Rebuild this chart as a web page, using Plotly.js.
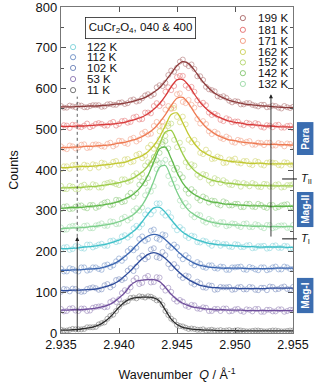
<!DOCTYPE html>
<html><head><meta charset="utf-8">
<script src="https://cdn.plot.ly/plotly-3.0.1.min.js"></script>
<style>html,body{margin:0;padding:0;background:#fff}#chart{width:316px;height:383px}</style>
</head><body><div id="chart"></div>
<script>
// Wavenumber grids (Å^-1)
const Q = [2.935,2.9355,2.936,2.9365,2.937,2.9375,2.938,2.9385,2.939,2.9395,2.94,2.9405,2.941,2.9415,2.942,2.9425,2.943,2.9435,2.944,2.9445,2.945,2.9455,2.946,2.9465,2.947,2.9475,2.948,2.9485,2.949,2.9495,2.95,2.9505,2.951,2.9515,2.952,2.9525,2.953,2.9535,2.954,2.9545,2.955];
const Qm = [2.93525,2.93575,2.93625,2.93675,2.93725,2.93775,2.93825,2.93875,2.93925,2.93975,2.94025,2.94075,2.94125,2.94175,2.94225,2.94275,2.94325,2.94375,2.94425,2.94475,2.94525,2.94575,2.94625,2.94675,2.94725,2.94775,2.94825,2.94875,2.94925,2.94975,2.95025,2.95075,2.95125,2.95175,2.95225,2.95275,2.95325,2.95375,2.95425,2.95475];

const temps = ['11 K','53 K','102 K','112 K','122 K','132 K','142 K','152 K','162 K','171 K','181 K','199 K'];

// fitted curves (offset counts) on Q
const fit_11K  = [7,7,8,9,11,13,17,23,33,47,63,76,84,87,88,88,86,78,56,34,21,14,11,9,8,7,7,6,6,6,6,5,5,5,5,5,5,5,5,5,5];
const fit_53K  = [56,56,57,57,58,59,61,64,68,75,86,99,117,127,130,131,131,126,112,95,82,73,67,63,61,59,58,57,57,56,56,56,55,55,55,55,55,55,55,55,55];
const fit_102K = [104,104,105,105,106,107,108,111,115,120,128,140,153,168,182,193,197,193,183,169,154,141,131,123,117,114,112,111,110,110,110,109,109,109,109,109,110,110,110,110,110];
const fit_112K = [154,154,155,155,156,157,158,160,164,169,177,188,200,215,228,238,242,239,229,216,202,189,179,171,166,163,161,160,159,159,159,159,158,158,158,158,158,159,159,159,159];
const fit_122K = [207,207,208,209,211,212,214,216,219,223,228,234,244,256,273,292,307,308,296,278,261,247,238,231,226,222,219,217,216,215,214,213,212,212,211,211,211,211,211,210,210];
const fit_132K = [256,257,258,258,259,261,262,264,266,269,273,279,286,297,314,339,373,407,411,381,346,319,301,290,282,276,272,269,267,266,265,264,263,262,262,262,261,261,261,261,261];
const fit_142K = [306,307,308,308,309,311,312,314,316,319,323,329,336,347,363,387,420,452,456,428,394,368,351,340,332,326,322,320,317,316,315,314,313,312,312,312,311,311,311,311,311];
const fit_152K = [356,356,357,357,358,359,360,362,364,366,369,372,377,385,395,410,433,463,493,497,470,439,415,399,388,381,375,372,369,367,366,364,363,363,362,362,361,361,361,361,361];
const fit_162K = [406,406,407,408,409,409,410,412,413,415,417,419,424,429,435,445,460,481,509,536,540,516,487,465,449,440,433,428,424,422,420,419,417,416,417,416,415,415,415,415,415];
const fit_171K = [455,455,456,456,458,458,459,460,461,463,466,468,472,476,482,490,501,517,536,558,576,578,563,541,521,505,494,485,479,474,472,469,467,466,464,463,463,463,462,462,461];
const fit_181K = [507,507,507,508,508,509,510,511,512,513,515,517,521,525,530,538,549,563,582,604,621,622,608,586,566,551,539,531,525,520,517,515,512,511,510,508,508,507,506,506,505];
const fit_199K = [555,555,555,556,556,557,557,558,559,561,562,564,567,571,575,582,591,602,618,637,656,666,661,645,625,608,594,584,577,571,567,564,561,560,558,557,556,555,554,553,553];

// measured counts (offset) on Q
const obs_11K  = [8,6,10,9,10,14,15,24,35,45,64,75,86,85,89,90,85,80,54,35,20,16,10,10,8,6,8,6,5,7,6,6,4,5,6,4,5,6,4,5,6];
const obs_53K  = [59,54,61,54,60,55,64,66,64,80,83,105,112,135,123,140,125,136,104,101,77,77,64,68,59,62,54,59,60,53,58,54,58,53,59,52,57,53,58,54,57];
const obs_102K = [101,107,109,103,102,110,110,107,120,117,132,134,159,163,190,186,208,184,191,159,161,135,139,119,122,111,116,107,112,113,107,113,107,112,105,111,114,107,112,108,113];
const obs_112K = [158,151,157,151,161,155,161,155,168,166,183,184,207,209,237,230,254,229,240,209,211,181,185,166,170,160,166,158,162,155,161,163,155,160,154,161,156,163,156,161,157];
const obs_122K = [204,211,206,212,207,217,213,219,214,227,225,240,240,263,267,301,300,318,288,284,252,254,233,237,222,225,214,221,218,212,218,211,215,208,213,214,208,215,209,213,207];
const obs_132K = [259,254,263,256,263,257,264,269,263,273,268,285,282,306,308,350,360,417,425,366,358,311,311,284,289,271,276,266,272,264,268,260,269,260,265,257,265,259,264,258,265];
const obs_142K = [304,311,305,313,308,314,307,316,322,315,326,323,344,343,372,380,432,442,471,416,405,382,342,346,325,331,325,316,323,313,317,309,317,310,317,309,314,307,313,316,308];
const obs_152K = [361,353,359,353,364,357,363,357,368,368,363,377,374,392,390,419,422,476,484,514,456,450,407,411,382,388,367,376,375,364,370,359,365,368,359,366,359,364,357,363,365];
const obs_162K = [402,409,412,406,413,404,412,418,410,420,413,426,419,437,429,455,452,495,497,552,530,531,474,474,442,450,427,433,417,426,428,416,422,412,420,411,419,417,411,418,413];
const obs_171K = [458,451,458,455,463,455,463,458,464,458,472,466,476,470,490,487,508,508,548,550,586,567,572,553,514,513,488,490,476,478,467,472,469,462,467,461,467,460,464,465,459];
const obs_181K = [504,509,511,506,509,505,513,513,509,518,513,521,518,531,525,541,557,557,592,596,628,631,601,592,561,559,535,534,520,524,519,512,516,509,513,504,509,510,504,508,502];
const obs_199K = [557,553,556,559,554,557,559,555,561,560,565,562,571,568,576,586,586,608,614,644,651,671,655,648,630,604,596,581,581,570,569,561,564,560,556,560,555,557,551,554,555];

// measured counts (offset) on Qm
const obsm_11K  = [6,8,9,9,14,14,21,26,42,54,72,78,87,90,87,89,80,69,44,30,17,13,11,8,9,7,6,7,6,5,7,5,4,6,5,4,6,5,4,6];
const obsm_53K  = [53,60,55,60,54,62,65,63,76,76,98,103,129,120,136,124,137,113,111,83,81,67,69,60,63,54,59,54,60,54,59,52,57,59,52,57,53,58,52,57];
const obsm_102K = [108,102,108,101,108,112,106,117,112,130,130,153,152,184,181,205,186,199,169,169,141,141,123,126,112,117,106,113,112,106,112,107,113,106,111,105,113,108,114,107];
const obsm_112K = [151,159,153,161,153,161,157,166,162,176,177,201,203,231,226,251,232,242,213,217,190,191,171,174,162,166,159,163,155,161,162,156,162,156,161,154,161,156,163,157];
const obsm_122K = [210,204,213,208,217,210,217,214,226,223,237,234,257,259,291,291,318,295,296,262,260,238,239,223,227,219,222,214,218,211,217,211,216,209,213,207,214,209,214,207];
const obsm_132K = [253,261,263,256,264,257,266,263,274,267,281,276,300,300,338,347,402,417,385,377,325,319,290,291,275,280,268,272,262,269,263,268,260,267,260,265,257,263,264,258];
const obsm_142K = [310,304,310,313,306,314,310,320,313,327,321,336,334,364,367,413,424,463,453,401,390,352,353,331,335,320,324,313,320,313,317,309,317,309,314,307,314,309,315,308];
const obsm_152K = [353,361,353,361,357,365,357,366,370,365,377,371,386,383,411,416,459,469,508,474,467,419,414,388,390,374,380,368,370,363,368,368,360,365,358,365,359,365,358,363];
const obsm_162K = [409,403,413,406,411,414,406,416,412,422,414,427,421,440,435,462,461,507,514,552,517,512,468,464,439,442,428,430,418,424,418,422,414,422,413,418,418,412,419,413];
const obsm_171K = [453,460,453,462,454,462,462,457,467,462,471,464,479,475,494,489,518,519,557,558,588,564,560,525,520,495,494,479,482,469,474,466,471,462,466,467,460,466,458,464];
const obsm_181K = [510,503,510,505,514,508,515,509,515,509,520,516,529,524,541,539,564,564,603,606,631,607,604,571,565,541,538,523,527,517,519,510,514,515,506,510,505,511,504,509];
const obsm_199K = [553,558,554,558,554,559,559,556,562,560,566,564,573,570,583,582,603,606,633,641,666,660,659,630,621,598,593,579,577,566,568,561,564,558,560,554,558,553,557,552];

const xTicks = [2.935,2.940,2.945,2.950,2.955];
const xTickText = ['2.935','2.940','2.945','2.950','2.955'];
const phaseLabels = ['Para','Mag-II','Mag-I'];
const transitionLabels = ['<i>T</i><sub>II</sub>','<i>T</i><sub>I</sub>'];
const transitionCounts = [378,231];

const fits = [fit_11K,fit_53K,fit_102K,fit_112K,fit_122K,fit_132K,fit_142K,fit_152K,fit_162K,fit_171K,fit_181K,fit_199K];
const obs  = [obs_11K,obs_53K,obs_102K,obs_112K,obs_122K,obs_132K,obs_142K,obs_152K,obs_162K,obs_171K,obs_181K,obs_199K];
const obsm = [obsm_11K,obsm_53K,obsm_102K,obsm_112K,obsm_122K,obsm_132K,obsm_142K,obsm_152K,obsm_162K,obsm_171K,obsm_181K,obsm_199K];
const lineColors = ['#2a2a2a','#6e4c9a','#2c4a9a','#3a64b0','#3ec0c8','#7ccf8a','#5fb84a','#9ccc48','#c2c830','#ee7a52','#d83a3a','#8c3b3b'];
const markColors = ['#666666','#8a74b0','#6a80b8','#6a8cc4','#78d0d8','#98d8a4','#80c46c','#b0d468','#ccd058','#f2967a','#e46a6a','#a86464'];

const traces = [];
temps.forEach((t,i)=>{
  traces.push({x:Q.concat(Qm),y:obs[i].concat(obsm[i]),type:'scatter',mode:'markers',name:t,showlegend:false,
    marker:{symbol:'circle-open',size:5,color:markColors[i],line:{width:0.7}},opacity:0.75,hoverinfo:'skip'});
});
temps.forEach((t,i)=>{
  traces.push({x:Q,y:fits[i],type:'scatter',mode:'lines',name:t,showlegend:false,
    line:{color:lineColors[i],width:1.3,shape:'spline',smoothing:0.8},hoverinfo:'skip'});
});

// legend built as decorations (two columns)
const leftLegend = [4,3,2,1,0];           // 122,112,102,53,11
const rightLegend = [11,10,9,8,7,6,5];   // 199..132
const leftRowsY = [0.877,0.846,0.813,0.779,0.745];
const rightRowsY = [0.966,0.930,0.896,0.862,0.830,0.797,0.764];
const shapes = [], annotations = [];
function legendEntry(idx, xm, xt, y){
  shapes.push({type:'circle',xref:'paper',yref:'paper',xsizemode:'pixel',ysizemode:'pixel',
    xanchor:xm,yanchor:y,x0:-2.6,x1:2.6,y0:-2.6,y1:2.6,line:{color:markColors[idx],width:0.9}});
  annotations.push({xref:'paper',yref:'paper',x:xt,y:y,xanchor:'left',yanchor:'middle',showarrow:false,
    text:temps[idx],font:{size:11.5,color:'#111'}});
}
leftLegend.forEach((k,r)=>legendEntry(k,0.052,0.102,leftRowsY[r]));
rightLegend.forEach((k,r)=>legendEntry(k,0.784,0.84,rightRowsY[r]));

annotations.push({xref:'paper',yref:'paper',x:0.105,y:0.969,xanchor:'left',yanchor:'top',showarrow:false,
  text:'CuCr<sub>2</sub>O<sub>4</sub>, 040 &amp; 400',font:{size:11.5,color:'#111'},
  bordercolor:'#222',borderwidth:0.8,borderpad:3,bgcolor:'#fff'});

// arrows
const arrowLeftX = 2.9364, arrowRightX = 2.9531;
annotations.push({x:arrowLeftX,y:236,ax:arrowLeftX,ay:0,xref:'x',yref:'y',axref:'x',ayref:'y',text:'',
  showarrow:true,arrowhead:2,arrowsize:0.9,arrowwidth:0.9,arrowcolor:'#222'});
shapes.push({type:'line',xref:'x',yref:'y',x0:arrowLeftX,x1:arrowLeftX,y0:236,y1:580,line:{color:'#333',width:0.8,dash:'dot'}});
annotations.push({x:arrowRightX,y:586,ax:arrowRightX,ay:233,xref:'x',yref:'y',axref:'x',ayref:'y',text:'',
  showarrow:true,arrowhead:2,arrowsize:0.9,arrowwidth:0.9,arrowcolor:'#222'});

// transition marks
transitionCounts.forEach((c,i)=>{
  shapes.push({type:'line',xref:'paper',yref:'y',x0:0.953,x1:1.017,y0:c,y1:c,line:{color:'#111',width:1}});
  annotations.push({xref:'paper',yref:'y',x:1.025,y:c,xanchor:'left',yanchor:'middle',showarrow:false,
    text:transitionLabels[i],font:{size:11,color:'#111'}});
});

// phase boxes
const boxY = [[0.546,0.647],[0.325,0.4325],[0.061,0.169]];
phaseLabels.forEach((p,i)=>{
  shapes.push({type:'rect',xref:'paper',yref:'paper',x0:1.017,x1:1.088,y0:boxY[i][0],y1:boxY[i][1],
    fillcolor:'#3b6db0',line:{width:0}});
  annotations.push({xref:'paper',yref:'paper',x:1.0525,y:(boxY[i][0]+boxY[i][1])/2,xanchor:'center',yanchor:'middle',
    showarrow:false,textangle:-90,text:'<b>'+p+'</b>',font:{size:10,color:'#fff'}});
});

const layout = {
  width:316,height:383,margin:{l:61,r:23,t:7,b:50},
  paper_bgcolor:'#fff',plot_bgcolor:'#fff',
  font:{family:'Liberation Sans, Arial, sans-serif',color:'#111'},
  showlegend:false,
  xaxis:{range:[2.935,2.955],tickvals:xTicks,ticktext:xTickText,ticks:'inside',ticklen:5,tickcolor:'#555',
    showline:true,linecolor:'#777',linewidth:1.2,mirror:'allticks',showgrid:false,zeroline:false,
    tickfont:{size:12.5},automargin:false,ticklabeloverflow:'allow',
    title:{text:'Wavenumber  <i>Q</i> / Å<sup>-1</sup>',font:{size:12.5},standoff:19}},
  yaxis:{range:[0,800],dtick:100,ticks:'inside',ticklen:5,tickcolor:'#555',
    minor:{dtick:50,ticks:'inside',ticklen:3,tickcolor:'#555'},
    showline:true,linecolor:'#777',linewidth:1.2,mirror:'allticks',showgrid:false,zeroline:false,
    tickfont:{size:13},automargin:false,ticklabeloverflow:'allow',
    title:{text:'Counts',font:{size:12.5},standoff:14}},
  shapes:shapes,annotations:annotations
};
Plotly.newPlot('chart',traces,layout,{displayModeBar:false,staticPlot:true});
</script></body></html>
